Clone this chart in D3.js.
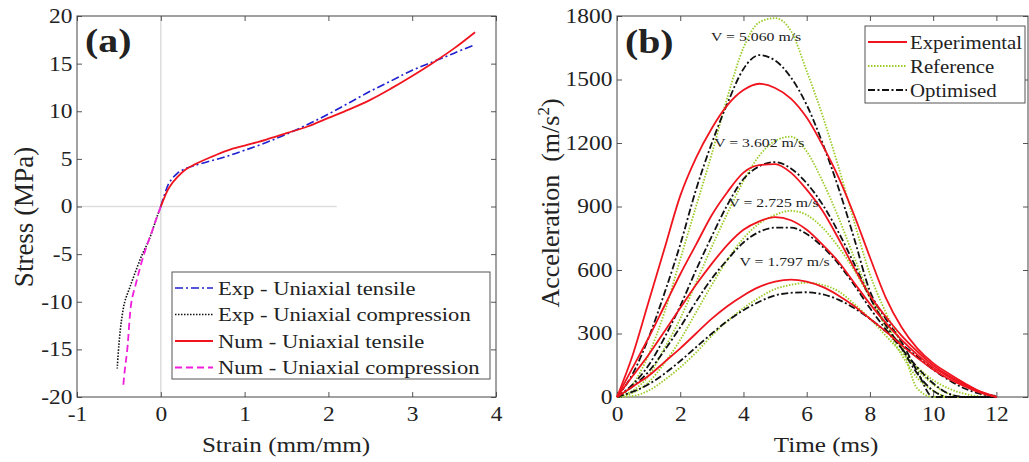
<!DOCTYPE html>
<html lang="en">
<head>
<meta charset="UTF-8">
<title>Stress-strain and acceleration curves</title>
<script src="https://d3js.org/d3.v7.min.js"></script>
<style>
  body { margin: 0; background: #fff; }
  text { font-family: "Liberation Serif", "Times New Roman", serif; fill: #222; }
</style>
</head>
<body>
<svg width="1029" height="462"></svg>
<script>
// ---- panel (a) data: strain (mm/mm), stress (MPa)
const expTensileStrain = [0, 0.05, 0.1, 0.2, 0.3, 0.4, 0.6, 0.8, 1.0, 1.25, 1.5, 1.75, 2.0, 2.25, 2.5, 2.75, 3.0, 3.25, 3.5, 3.75];
const expTensileStress = [0, 1.4, 2.5, 3.5, 4.0, 4.3, 4.8, 5.3, 5.9, 6.7, 7.6, 8.6, 9.7, 10.9, 12.1, 13.2, 14.3, 15.2, 16.1, 17.0];
const numTensileStrain = [0, 0.05, 0.1, 0.2, 0.3, 0.4, 0.6, 0.8, 1.0, 1.25, 1.5, 1.75, 2.0, 2.25, 2.5, 2.75, 3.0, 3.25, 3.5, 3.75];
const numTensileStress = [0, 1.1, 2.0, 3.1, 3.9, 4.4, 5.2, 5.9, 6.4, 7.0, 7.7, 8.4, 9.3, 10.2, 11.2, 12.4, 13.7, 15.1, 16.6, 18.3];
const expCompStrain = [0, -0.05, -0.1, -0.15, -0.22, -0.3, -0.37, -0.43, -0.47, -0.5, -0.52];
const expCompStress = [0, -1.2, -2.5, -3.7, -5.0, -6.8, -8.5, -10.0, -12.0, -14.5, -17.0];
const numCompStrain = [0, -0.05, -0.1, -0.15, -0.2, -0.25, -0.3, -0.35, -0.4, -0.43, -0.45];
const numCompStress = [0, -1.2, -2.5, -3.7, -5.0, -6.5, -8.2, -10.0, -15.0, -17.2, -19.0];
const strainTicks = [-1, 0, 1, 2, 3, 4];
const stressTicks = [-20, -15, -10, -5, 0, 5, 10, 15, 20];

// ---- panel (b) data: time (ms), acceleration (m/s^2)
const time = [0, 0.5, 1, 1.5, 2, 2.5, 3, 3.5, 4, 4.5, 5, 5.5, 6, 6.5, 7, 7.5, 8, 8.5, 9, 9.5, 10, 10.5, 11, 11.5, 12];
const velocities = ["V = 5.060 m/s", "V = 3.602 m/s", "V = 2.725 m/s", "V = 1.797 m/s"];
const experimental = [
  [0, 200, 450, 700, 950, 1130, 1270, 1380, 1450, 1480, 1460, 1410, 1320, 1190, 1040, 860, 660, 470, 330, 230, 160, 110, 65, 25, 0],
  [0, 140, 280, 430, 580, 720, 860, 970, 1060, 1095, 1100, 1060, 980, 880, 750, 610, 480, 380, 290, 215, 150, 100, 60, 25, 0],
  [0, 100, 200, 310, 420, 530, 630, 720, 790, 830, 850, 835, 790, 720, 640, 540, 440, 350, 270, 200, 140, 95, 55, 22, 0],
  [0, 50, 100, 165, 230, 300, 370, 430, 480, 520, 545, 555, 545, 520, 480, 430, 370, 310, 245, 185, 130, 85, 50, 20, 0]
];
const reference = [
  [0, 60, 200, 400, 650, 900, 1150, 1420, 1650, 1770, 1790, 1730, 1540, 1330, 1090, 830, 580, 400, 250, 40, 0, 0, 0, 0, 0],
  [0, 30, 100, 230, 370, 540, 710, 870, 1020, 1140, 1210, 1230, 1160, 1020, 850, 660, 480, 330, 200, 90, 30, 0, 0, 0, 0],
  [0, 20, 70, 160, 270, 400, 530, 650, 750, 820, 860, 880, 860, 800, 710, 600, 470, 350, 230, 130, 60, 15, 0, 0, 0],
  [0, 5, 30, 80, 140, 210, 290, 360, 420, 470, 510, 530, 540, 530, 500, 440, 370, 290, 210, 140, 80, 40, 15, 3, 0]
];
const optimised = [
  [0, 110, 280, 490, 720, 980, 1200, 1390, 1550, 1615, 1590, 1510, 1380, 1200, 990, 750, 500, 370, 260, 120, 0, 0, 0, 0, 0],
  [0, 60, 150, 280, 430, 600, 760, 910, 1030, 1090, 1110, 1080, 1010, 910, 780, 630, 470, 340, 230, 110, 30, 0, 0, 0, 0],
  [0, 50, 120, 220, 330, 450, 560, 650, 730, 780, 800, 800, 770, 710, 630, 530, 420, 320, 230, 140, 65, 15, 0, 0, 0],
  [0, 25, 60, 110, 170, 235, 300, 360, 410, 450, 480, 492, 495, 485, 460, 420, 370, 310, 250, 190, 130, 80, 40, 15, 5]
];
const timeTicks = [0, 2, 4, 6, 8, 10, 12];
const accTicks = [0, 300, 600, 900, 1200, 1500, 1800];
const labelPos = [[4.4, 1680], [4.5, 1180], [4.95, 900], [5.3, 620]];

// the source figure is stretched sideways, so text gets a small x-scale
const SX = 1.17;

const svg = d3.select("svg");

function stext(parent, x, y, str, size, anchor, weight) {
  return parent.append("text")
    .attr("transform", `translate(${x},${y}) scale(${SX},1)`)
    .attr("text-anchor", anchor || "start")
    .attr("font-size", size)
    .attr("font-weight", weight || "normal")
    .text(str);
}

function inwardAxes(g, x, y, xTicks, yTicks, w, h) {
  const fmt = d => String(d);
  g.append("g").attr("transform", `translate(0,${h})`)
    .call(d3.axisBottom(x).tickValues(xTicks).tickFormat(fmt).tickSizeInner(-5).tickSizeOuter(0).tickPadding(10));
  g.append("g").call(d3.axisTop(x).tickValues(xTicks).tickSizeInner(-5).tickSizeOuter(0).tickFormat(""));
  g.append("g")
    .call(d3.axisLeft(y).tickValues(yTicks).tickFormat(fmt).tickSizeInner(-5).tickSizeOuter(0).tickPadding(4));
  g.append("g").attr("transform", `translate(${w},0)`)
    .call(d3.axisRight(y).tickValues(yTicks).tickSizeInner(-5).tickSizeOuter(0).tickFormat(""));
  g.selectAll(".tick text")
    .attr("font-size", 20).attr("font-family", "Liberation Serif").attr("fill", "#222")
    .attr("transform", `scale(${SX},1)`);
  g.selectAll(".tick line").attr("stroke", "#555");
  g.selectAll(".domain").remove();
  g.append("rect").attr("width", w).attr("height", h)
    .attr("fill", "none").attr("stroke", "#444").attr("stroke-width", 1);
}

// ================= panel (a)
const aLeft = 77, aTop = 16, aW = 419, aH = 381;
const ga = svg.append("g").attr("transform", `translate(${aLeft},${aTop})`);
const xa = d3.scaleLinear().domain([-1, 4]).range([0, aW]);
const ya = d3.scaleLinear().domain([-20, 20]).range([aH, 0]);

// zero reference lines
ga.append("line").attr("x1", xa(0)).attr("x2", xa(0)).attr("y1", 0).attr("y2", aH)
  .attr("stroke", "#ddd").attr("stroke-width", 1.5);
ga.append("line").attr("x1", 0).attr("x2", xa(2.1)).attr("y1", ya(0)).attr("y2", ya(0))
  .attr("stroke", "#ddd").attr("stroke-width", 1.5);

inwardAxes(ga, xa, ya, strainTicks, stressTicks, aW, aH);

const lineA = d3.line().x(d => xa(d[0])).y(d => ya(d[1])).curve(d3.curveCatmullRom);
const seriesA = [
  { name: "Exp - Uniaxial tensile", xs: expTensileStrain, ys: expTensileStress, color: "#1f1fd0", dash: "8,3,2,3", w: 1.6 },
  { name: "Exp - Uniaxial compression", xs: expCompStrain, ys: expCompStress, color: "#111", dash: "1.5,1.5", w: 1.6 },
  { name: "Num - Uniaxial tensile", xs: numTensileStrain, ys: numTensileStress, color: "#f0141e", dash: null, w: 1.8 },
  { name: "Num - Uniaxial compression", xs: numCompStrain, ys: numCompStress, color: "#f01edc", dash: "7,4", w: 1.8 }
];
[1, 3, 0, 2].forEach(i => {
  const s = seriesA[i];
  ga.append("path").datum(s.xs.map((v, k) => [v, s.ys[k]]))
    .attr("d", lineA).attr("fill", "none").attr("stroke", s.color)
    .attr("stroke-width", s.w).attr("stroke-dasharray", s.dash);
});

stext(svg, 85, 52, "(a)", 34, "start", "bold");

// legend (a)
const legA = svg.append("g").attr("transform", "translate(172,272)");
legA.append("rect").attr("width", 318).attr("height", 107).attr("fill", "#fff").attr("stroke", "#555");
seriesA.forEach((s, i) => {
  const yy = 16 + i * 26.5;
  legA.append("line").attr("x1", 3).attr("x2", 41).attr("y1", yy).attr("y2", yy)
    .attr("stroke", s.color).attr("stroke-width", s.w).attr("stroke-dasharray", s.dash);
  stext(legA, 46, yy + 6.5, s.name, 19.3);
});

stext(svg, 286, 452, "Strain (mm/mm)", 21.5, "middle");
svg.append("text").attr("transform", "translate(33,217) rotate(-90)")
  .attr("text-anchor", "middle").attr("font-size", 27).text("Stress (MPa)");

// ================= panel (b)
const bLeft = 617, bTop = 16, bW = 411, bH = 381;
const gb = svg.append("g").attr("transform", `translate(${bLeft},${bTop})`);
const xb = d3.scaleLinear().domain([0, 13]).range([0, bW]);
const yb = d3.scaleLinear().domain([0, 1800]).range([bH, 0]);

inwardAxes(gb, xb, yb, timeTicks, accTicks, bW, bH);

const lineB = d3.line().x(d => xb(d[0])).y(d => yb(d[1])).curve(d3.curveMonotoneX);
const styleB = [
  { name: "Experimental", data: experimental, color: "#f0141e", dash: null, w: 1.8 },
  { name: "Reference", data: reference, color: "#9ccc28", dash: "1.5,1.5", w: 1.8 },
  { name: "Optimised", data: optimised, color: "#111", dash: "7,2.5,2,2.5", w: 1.8 }
];
[1, 2, 0].forEach(si => {
  const s = styleB[si];
  s.data.forEach(vals => {
    gb.append("path").datum(time.map((t, k) => [t, vals[k]]))
      .attr("d", lineB).attr("fill", "none").attr("stroke", s.color)
      .attr("stroke-width", s.w).attr("stroke-dasharray", s.dash);
  });
});

velocities.forEach((v, i) => {
  stext(gb, xb(labelPos[i][0]), yb(labelPos[i][1]), v, 13.5, "middle");
});

stext(svg, 625, 53, "(b)", 34, "start", "bold");

// legend (b)
const legB = svg.append("g").attr("transform", "translate(865,26)");
legB.append("rect").attr("width", 160).attr("height", 77).attr("fill", "#fff").attr("stroke", "#555");
styleB.forEach((s, i) => {
  const yy = 16 + i * 24;
  legB.append("line").attr("x1", 3).attr("x2", 42).attr("y1", yy).attr("y2", yy)
    .attr("stroke", s.color).attr("stroke-width", s.w).attr("stroke-dasharray", s.dash);
  stext(legB, 45, yy + 6.5, s.name, 17.8);
});

stext(svg, 826, 452, "Time (ms)", 21.5, "middle");
const yl = svg.append("text").attr("transform", "translate(559,203) rotate(-90)")
  .attr("text-anchor", "middle").attr("font-size", 26).attr("xml:space", "preserve");
yl.append("tspan").text("Acceleration  (m/s");
yl.append("tspan").attr("font-size", 17).attr("dy", -10).text("2");
yl.append("tspan").attr("dy", 10).text(")");
</script>
</body>
</html>
